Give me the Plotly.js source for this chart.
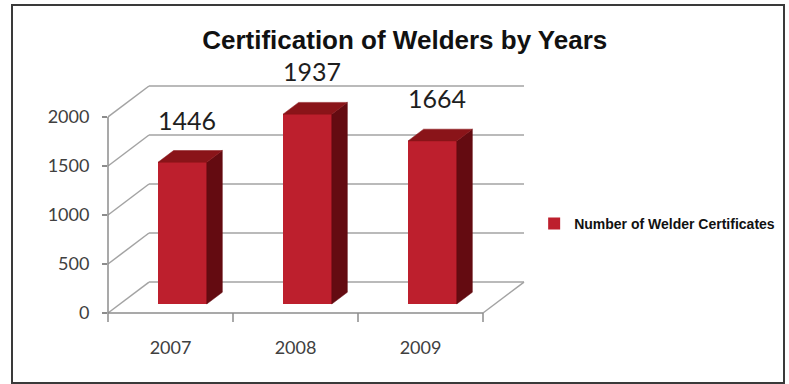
<!DOCTYPE html>
<html>
<head>
<meta charset="utf-8">
<script src="https://cdn.plot.ly/plotly-3.0.1.min.js"></script>
<style>
  html, body { margin: 0; padding: 0; background: #ffffff; }
  #wrap { position: relative; width: 789px; height: 384px; }
  #chart { position: absolute; left: 0; top: 0; width: 789px; height: 384px; }
  #frame { position: absolute; left: 11px; top: 4px; width: 774px; height: 380px;
           border: 2px solid #3a3a3a; box-sizing: border-box; pointer-events: none; }
</style>
</head>
<body>
<div id="wrap"><div id="chart"></div><div id="frame"></div></div>
<script>
// ---- data ----
const years = ['2007', '2008', '2009'];
const certificates = [1446, 1937, 1664];
const yTickValues = [0, 500, 1000, 1500, 2000];
const seriesName = 'Number of Welder Certificates';
const chartTitle = 'Certification of Welders by Years';

// ---- pseudo-3D geometry (style) ----
const WALL_DX = 0.328;   // depth offset of back wall, x units
const WALL_DY = 316;     // depth offset of back wall, y units
const BAR_D0 = 0.29;     // bar front plane depth fraction
const BAR_DEPTH = 0.38;  // bar depth fraction
const BAR_W = 0.39;      // bar front width, x units
const LABEL_SHIFT = 31;  // data label shift above the bar's back top edge, px
const yMax = yTickValues[yTickValues.length - 1];
const nCat = years.length;

const X_RANGE = [0, nCat + WALL_DX];
const Y_RANGE = [0, yMax + WALL_DY];
const px = x => (x - X_RANGE[0]) / (X_RANGE[1] - X_RANGE[0]);
const py = y => (y - Y_RANGE[0]) / (Y_RANGE[1] - Y_RANGE[0]);

const gridColor = '#a3a3a3';
const axisColor = '#8c8c8c';
const frontColor = '#bd1f2d';
const sideColor = '#640b11';
const topColor = '#8a1419';

const bx0 = BAR_D0 * WALL_DX, by0 = BAR_D0 * WALL_DY;
const bdx = BAR_DEPTH * WALL_DX, bdy = BAR_DEPTH * WALL_DY;
const centers = years.map((_, i) => i + 0.5 + bx0);

// ---- structural lines (walls, floor, axis) ----
const shapes = [];
function seg(x0, y0, x1, y1, color, w) {
  shapes.push({type: 'line', xref: 'paper', yref: 'paper', layer: 'below',
    x0: px(x0), y0: py(y0), x1: px(x1), y1: py(y1),
    line: {color: color || gridColor, width: w || 1.5}});
}
yTickValues.forEach(v => {
  seg(0, v, WALL_DX, v + WALL_DY);                       // side diagonal
  seg(WALL_DX, v + WALL_DY, nCat + WALL_DX, v + WALL_DY); // back wall grid
});
seg(0, 0, nCat, 0, axisColor);                 // floor front edge
seg(nCat, 0, nCat + WALL_DX, WALL_DY);         // floor right edge
seg(0, 0, 0, yMax, axisColor);                 // front value axis
// category boundary tick marks
for (let b = 0; b <= nCat; b++) {
  shapes.push({type: 'line', xref: 'paper', yref: 'paper', layer: 'below',
    x0: px(b), x1: px(b), y0: py(0), y1: py(0) - 9 / 227,
    line: {color: axisColor, width: 1.5}});
}

// ---- traces ----
const traces = [];
traces.push({
  type: 'bar', name: seriesName, x: centers, y: certificates,
  base: certificates.map(() => by0), width: BAR_W,
  marker: {color: frontColor, line: {width: 0}}, showlegend: true,
  hoverinfo: 'skip'
});
certificates.forEach((v, i) => {
  const xl = centers[i] - BAR_W / 2, xr = centers[i] + BAR_W / 2;
  const yb = by0, yt = by0 + v;
  traces.push({type: 'scatter', mode: 'lines', fill: 'toself', fillcolor: sideColor,
    line: {width: 0.5, color: sideColor}, showlegend: false, hoverinfo: 'skip',
    x: [xr, xr + bdx, xr + bdx, xr, xr], y: [yb, yb + bdy, yt + bdy, yt, yb]});
  traces.push({type: 'scatter', mode: 'lines', fill: 'toself', fillcolor: topColor,
    line: {width: 0.5, color: topColor}, showlegend: false, hoverinfo: 'skip',
    x: [xl, xl + bdx, xr + bdx, xr, xl], y: [yt, yt + bdy, yt + bdy, yt, yt]});
});

// data labels
const annotations = certificates.map((v, i) => ({
  xref: 'x', yref: 'y', x: centers[i] + 0.035, y: v + by0 + bdy,
  yshift: LABEL_SHIFT, showarrow: false, text: String(v),
  xanchor: 'center', yanchor: 'middle',
  font: {family: 'Lato, "Open Sans", sans-serif', size: 25, color: '#1e1e1e'}
}));

const layout = {
  width: 789, height: 384,
  margin: {l: 108, r: 265, t: 86, b: 71, autoexpand: false},
  paper_bgcolor: '#ffffff', plot_bgcolor: 'rgba(0,0,0,0)',
  title: {text: chartTitle, x: 0.513, xref: 'container', y: 1 - 40 / 384, yref: 'container',
    xanchor: 'center', yanchor: 'middle',
    font: {family: '"Liberation Sans", Arial, sans-serif', size: 26, weight: 'bold', color: '#111111'}},
  xaxis: {range: X_RANGE, showgrid: false, zeroline: false, showline: false,
    tickvals: years.map((_, i) => i + 0.5), ticktext: years,
    ticks: 'outside', ticklen: 18, tickcolor: 'rgba(0,0,0,0)',
    tickfont: {family: 'Lato, "Open Sans", sans-serif', size: 18, color: '#404040'},
    fixedrange: true},
  yaxis: {range: Y_RANGE, showgrid: false, zeroline: false, showline: false,
    tickvals: yTickValues, ticktext: yTickValues.map(String),
    ticks: 'outside', ticklen: 5, tickwidth: 1.5, tickcolor: axisColor,
    ticklabelstandoff: 9,
    tickfont: {family: 'Lato, "Open Sans", sans-serif', size: 18, color: '#404040'},
    fixedrange: true},
  shapes: shapes,
  annotations: annotations,
  showlegend: true,
  legend: {xref: 'container', yref: 'container', x: 0.677, y: 1 - 224 / 384,
    xanchor: 'left', yanchor: 'middle', bgcolor: 'rgba(0,0,0,0)',
    font: {family: '"Liberation Sans Narrow", "Arial Narrow", "Liberation Sans", sans-serif',
      size: 14, weight: 'bold', color: '#111111'}},
  bargap: 0
};

Plotly.newPlot('chart', traces, layout, {displayModeBar: false, staticPlot: true});
</script>
</body>
</html>
